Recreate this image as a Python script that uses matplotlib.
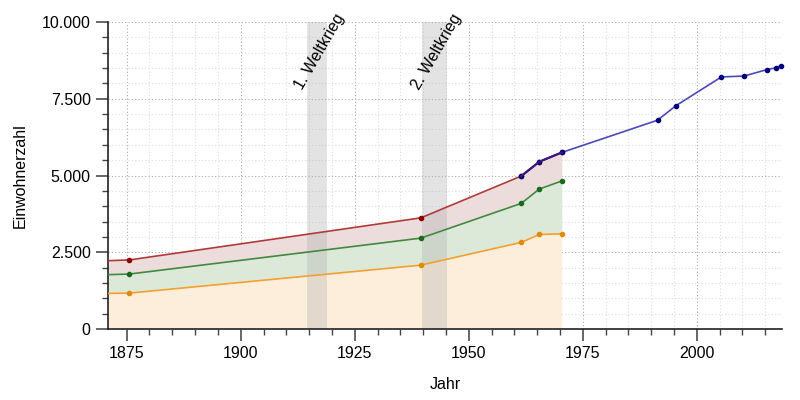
import numpy as np
import matplotlib.pyplot as plt
from matplotlib.ticker import MultipleLocator, FuncFormatter

plt.rcParams['font.family'] = ['Liberation Sans', 'DejaVu Sans']

# Daten (Einwohner), Stichtage als Jahresbruchteile
jahre_alt = [1871.0, 1875.6, 1939.5, 1961.5, 1965.5, 1970.4]
gesamt_alt = [2225, 2250, 3620, 4980, 5450, 5750]
mitte = [1770, 1790, 2960, 4090, 4560, 4820]
unten = [1160, 1170, 2080, 2820, 3080, 3100]

jahre_neu = [1961.5, 1965.5, 1970.4, 1991.4, 1995.4, 2005.4, 2010.4, 2015.4, 2017.4, 2018.4]
gesamt_neu = [4980, 5450, 5750, 6800, 7270, 8210, 8240, 8450, 8510, 8580]

kriege = [(1914.6, 1918.9, '1. Weltkrieg'), (1939.7, 1945.2, '2. Weltkrieg')]

fig = plt.figure(figsize=(8, 4), dpi=100)
ax = fig.add_axes([0.135, 0.1775, 0.8425, 0.7675])

# Flächen
ax.fill_between(jahre_alt, 0, unten, color='#fdeedb', lw=0, zorder=1)
ax.fill_between(jahre_alt, unten, mitte, color='#dde9d8', lw=0, zorder=1)
ax.fill_between(jahre_alt, mitte, gesamt_alt, color='#ecdcdc', lw=0, zorder=1)

# Kriege
for a, b, name in kriege:
    ax.axvspan(a, b, color='#b0b0b0', alpha=0.35, lw=0, zorder=2)
    ax.text((a + b) / 2 + 0.6, 9050, name, rotation=60, fontsize=11.5, ha='center', va='center',
            zorder=6, clip_on=False)

# Linien
ax.plot(jahre_alt, unten, color='#f5a030', lw=1.2, zorder=3,
        marker='o', ms=3, mfc='#e08a00', mec='#e08a00', markevery=list(range(1, 6)))
ax.plot(jahre_alt, mitte, color='#3f8a3f', lw=1.2, zorder=3,
        marker='o', ms=3, mfc='#1a6a1a', mec='#1a6a1a', markevery=list(range(1, 6)))
ax.plot(jahre_alt, gesamt_alt, color='#b03a3a', lw=1.2, zorder=3,
        marker='o', ms=3, mfc='#8b0000', mec='#8b0000', markevery=list(range(1, 6)))
ax.plot(jahre_neu, gesamt_neu, color='#4a4ab8', lw=1.2, zorder=4,
        marker='o', ms=3, mfc='#00007a', mec='#00007a', clip_on=False)
ax.plot(jahre_neu[:3], gesamt_neu[:3], color='#3a1a80', lw=1.6, zorder=4)

ax.set_xlim(1870.9, 2018.7)
ax.set_ylim(0, 10000)

ax.xaxis.set_major_locator(MultipleLocator(25))
ax.xaxis.set_minor_locator(MultipleLocator(5))
ax.yaxis.set_major_locator(MultipleLocator(2500))
ax.yaxis.set_minor_locator(MultipleLocator(500))
ax.yaxis.set_major_formatter(FuncFormatter(lambda v, p: f'{int(v):,}'.replace(',', '.')))

ax.grid(which='major', color='#aaaaaa', ls=(0, (1, 2)), lw=0.8, zorder=0)
ax.grid(which='minor', color='#dddddd', ls=(0, (1, 2)), lw=0.8, zorder=0)
ax.set_axisbelow(True)

for s in ['top', 'right']:
    ax.spines[s].set_visible(False)
for s in ['left', 'bottom']:
    ax.spines[s].set_color('#222222')
    ax.spines[s].set_linewidth(1.2)

ax.tick_params(which='major', length=8.5, width=1.4, color='#666666', labelsize=11.5, pad=4)
ax.tick_params(which='minor', length=4.5, width=1, color='#444444')

ax.set_xlabel('Jahr', fontsize=11.5, labelpad=11)
ax.set_ylabel('Einwohnerzahl', fontsize=11.5, labelpad=10)

fig.savefig('out.png', dpi=100)
